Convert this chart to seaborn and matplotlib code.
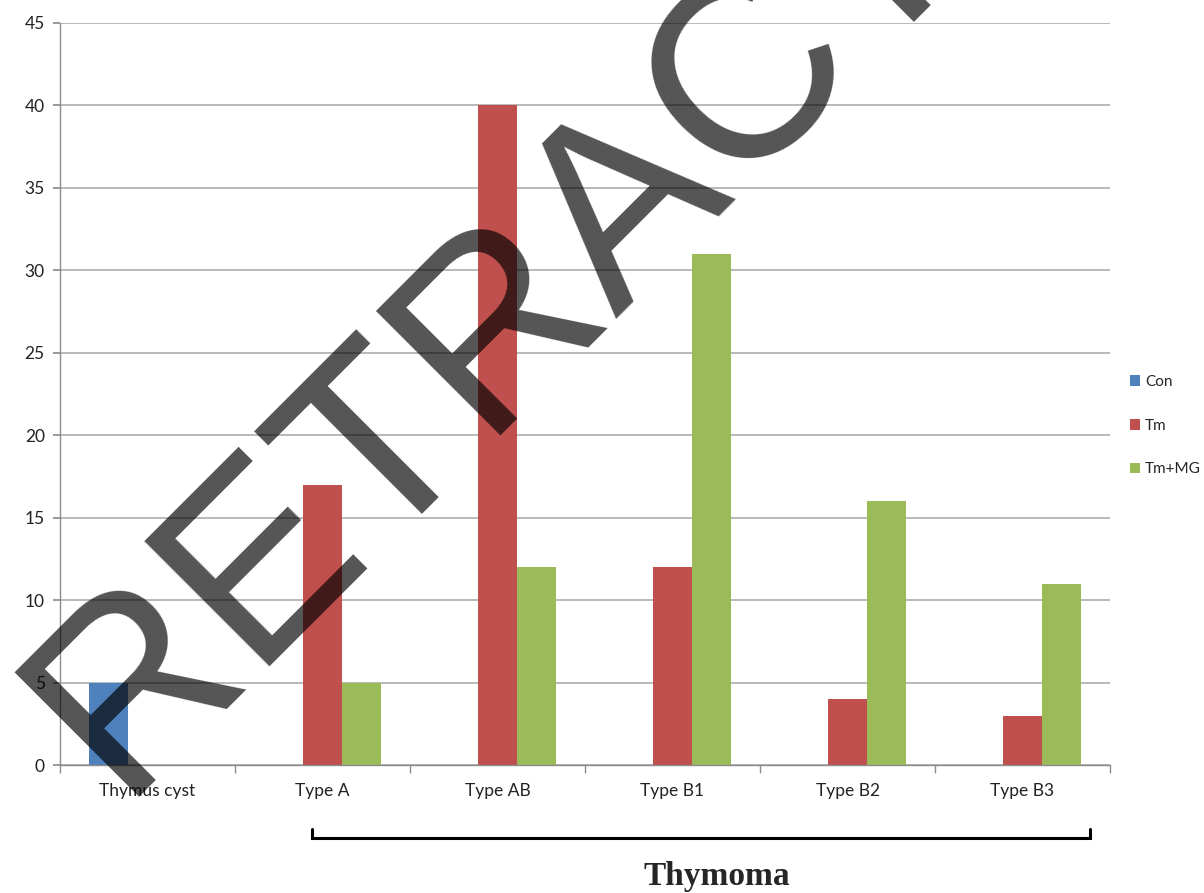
import matplotlib
matplotlib.use("Agg")
import matplotlib.pyplot as plt
from matplotlib.lines import Line2D
from matplotlib.patches import Patch
import seaborn as sns
import pandas as pd

categories = ["Thymus cyst", "Type A", "Type AB", "Type B1", "Type B2", "Type B3"]
series = ["Con", "Tm", "Tm+MG"]
con_values = [5, 0, 0, 0, 0, 0]
tm_values = [0, 17, 40, 12, 4, 3]
tmmg_values = [0, 5, 12, 31, 16, 11]
colors = ["#4F81BD", "#C0504D", "#9BBB59"]

rows = []
for s, vals in zip(series, [con_values, tm_values, tmmg_values]):
    for c, v in zip(categories, vals):
        rows.append({"category": c, "series": s, "value": v})
df = pd.DataFrame(rows)

sns.set_theme(style="white")
plt.rcParams['font.family'] = ['Lato', 'DejaVu Sans']

W, H = 1204, 893
fig = plt.figure(figsize=(W / 100, H / 100), dpi=100)
ax = fig.add_axes([60 / W, 1 - 765 / H, (1110 - 60) / W, (765 - 23) / H])

sns.barplot(data=df, x="category", y="value", hue="series", order=categories,
            hue_order=series, palette=colors, width=0.67, linewidth=0,
            saturation=1, ax=ax, legend=False, errorbar=None)

ax.set_xlim(-0.5, len(categories) - 0.5)
ax.set_ylim(0, 45)
ax.set_yticks(range(0, 46, 5))
ax.yaxis.grid(True, color="#A6A6A6", linewidth=1.1)
ax.set_axisbelow(True)
ax.set_xlabel("")
ax.set_ylabel("")
for side in ["top", "right"]:
    ax.spines[side].set_visible(False)
for side in ["left", "bottom"]:
    ax.spines[side].set_color("#8C8C8C")
    ax.spines[side].set_linewidth(1.0)

ax.set_xticks([i - 0.5 for i in range(len(categories) + 1)], minor=True)
ax.tick_params(axis="x", which="major", length=0, pad=13, labelsize=12.5, labelcolor="#222222")
ax.tick_params(axis="x", which="minor", length=6, color="#8C8C8C", direction="out", bottom=True)
ax.tick_params(axis="y", which="major", length=5, color="#8C8C8C", direction="out", left=True,
               labelsize=12.5, labelcolor="#222222", pad=6)

handles = [Patch(facecolor=c, edgecolor="none") for c in colors]
fig.legend(handles, series, loc="upper left", bbox_to_anchor=(1116 / W, 1 - 361 / H),
           frameon=False, handlelength=0.7, handleheight=0.7, handletextpad=0.3,
           labelspacing=1.95, fontsize=11)

# bracket
fig.add_artist(Line2D([312 / W, 312 / W, 1090 / W, 1090 / W],
                      [1 - 829 / H, 1 - 838 / H, 1 - 838 / H, 1 - 829 / H],
                      color="black", linewidth=2.2, transform=fig.transFigure,
                      solid_joinstyle="miter"))
fig.text(717 / W, 1 - 876 / H, "Thymoma", ha="center", va="center",
         fontsize=24, fontweight="bold", family=["Liberation Serif", "DejaVu Serif"])

# watermark
fig.text(119 / W, 1 - 797 / H, "RETRACTED", ha="left", va="baseline",
         rotation=45, rotation_mode="anchor", fontsize=184, color="black", alpha=0.67,
         family=["Liberation Sans", "DejaVu Sans"], zorder=10)

fig.savefig("out.png", dpi=100)
